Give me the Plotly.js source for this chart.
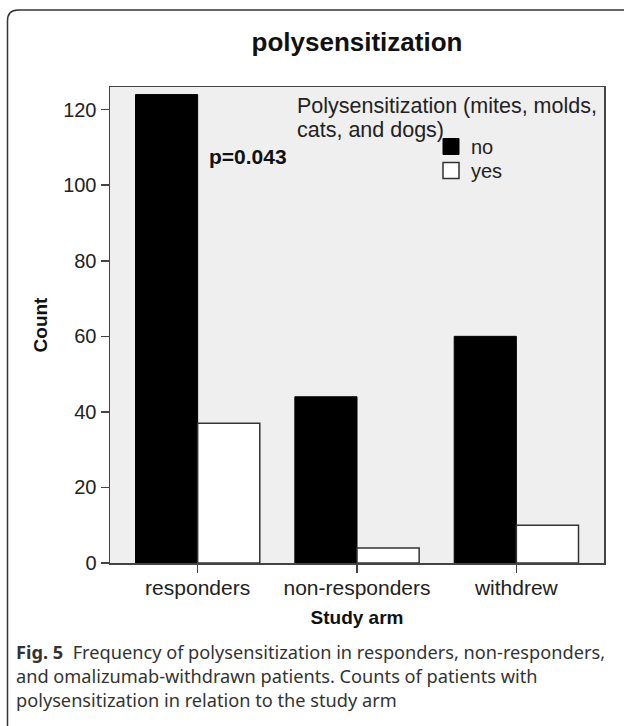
<!DOCTYPE html>
<html>
<head>
<meta charset="utf-8">
<script src="https://cdn.plot.ly/plotly-3.0.1.min.js"></script>
<style>
html,body{margin:0;padding:0;background:#fff;}
#chart{width:624px;height:726px;}
</style>
</head>
<body>
<div id="chart"></div>
<script>
// ---- data ----
const categories = ["responders", "non-responders", "withdrew"];
const seriesNames = ["no", "yes"];
const noValues = [124, 44, 60];
const yesValues = [37, 4, 10];
const yTickVals = [0, 20, 40, 60, 80, 100, 120];
const chartTitle = "polysensitization";
const legendTitle = ["Polysensitization (mites, molds,", "cats, and dogs)"];
const pValueText = "p=0.043";
const xTitle = "Study arm";
const yTitle = "Count";
const captionLines = [
  "<b>Fig. 5</b>  Frequency of polysensitization in responders, non-responders,",
  "and omalizumab-withdrawn patients. Counts of patients with",
  "polysensitization in relation to the study arm"
];

// ---- geometry helpers (pixel -> paper) ----
const W = 624, H = 726;
const M = {l: 110, r: 20, t: 87, b: 163};
const PW = W - M.l - M.r, PH = H - M.t - M.b;
const px = x => (x - M.l) / PW;
const py = y => (H - M.b - y) / PH;

const FONT = "Liberation Sans, Arial, sans-serif";
const fills = ["#000000", "#ffffff"];
const outlines = ["#000000", "#333333"];

const traces = [
  {
    type: "bar", name: seriesNames[0], x: categories, y: noValues,
    marker: {color: fills[0], line: {color: outlines[0], width: 1}},
    showlegend: false, hoverinfo: "x+y+name"
  },
  {
    type: "bar", name: seriesNames[1], x: categories, y: yesValues,
    marker: {color: fills[1], line: {color: outlines[1], width: 1.5}},
    showlegend: false, hoverinfo: "x+y+name"
  },
  // legend swatches (no visible data marks)
  {
    type: "scatter", mode: "markers", name: seriesNames[0], x: [null], y: [null],
    marker: {symbol: "square", size: 16, color: fills[0], line: {color: outlines[0], width: 1}},
    legend: "legend", hoverinfo: "skip"
  },
  {
    type: "scatter", mode: "markers", name: seriesNames[1], x: [null], y: [null],
    marker: {symbol: "square", size: 16, color: fills[1], line: {color: outlines[1], width: 1.5}},
    legend: "legend2", hoverinfo: "skip"
  }
];

const annotations = [
  {text: legendTitle[0], xref: "paper", yref: "paper", x: px(295), y: py(106),
   xanchor: "left", yanchor: "middle", showarrow: false, font: {family: FONT, size: 21.5, color: "#222"}},
  {text: legendTitle[1], xref: "paper", yref: "paper", x: px(295), y: py(130),
   xanchor: "left", yanchor: "middle", showarrow: false, font: {family: FONT, size: 21.5, color: "#222"}},
  {text: "<b>" + pValueText + "</b>", xref: "paper", yref: "paper", x: px(207), y: py(156),
   xanchor: "left", yanchor: "middle", showarrow: false, font: {family: FONT, size: 21, color: "#111"}}
];
const capY = [652, 676, 700];
captionLines.forEach((t, i) => {
  annotations.push({text: t, xref: "paper", yref: "paper", x: px(14), y: py(capY[i]),
    xanchor: "left", yanchor: "middle", showarrow: false,
    font: {family: "Noto Sans, Open Sans, sans-serif", size: 18.2, color: "#333"}});
});

const legendCommon = {
  xanchor: "left", yanchor: "top",
  bgcolor: "rgba(0,0,0,0)", font: {family: FONT, size: 20, color: "#222"},
  itemwidth: 30, tracegroupgap: 0, itemsizing: "trace"
};

const layout = {
  width: W, height: H,
  margin: M,
  paper_bgcolor: "#ffffff",
  plot_bgcolor: "#efefef",
  barmode: "group",
  bargap: 0.22,
  bargroupgap: 0,
  title: {text: "<b>" + chartTitle + "</b>", x: px(357), xref: "paper", xanchor: "center",
          y: 1 - 42 / H, yref: "container", yanchor: "middle",
          font: {family: FONT, size: 26, color: "#111"}},
  xaxis: {
    type: "category", categoryarray: categories, categoryorder: "array",
    range: [-0.55, 2.55], showgrid: false, zeroline: false,
    showline: true, mirror: true, linecolor: "#444", linewidth: 1.5,
    ticks: "outside", ticklen: 8, tickcolor: "#444", tickwidth: 1.5,
    ticklabelstandoff: -3,
    tickfont: {family: FONT, size: 21, color: "#222"},
    title: {text: "<b>" + xTitle + "</b>", standoff: 13, font: {family: FONT, size: 19, color: "#111"}},
    automargin: false
  },
  yaxis: {
    range: [0, 126], tickvals: yTickVals, showgrid: false, zeroline: false,
    showline: true, mirror: true, linecolor: "#444", linewidth: 1.5,
    ticks: "outside", ticklen: 8, tickcolor: "#444", tickwidth: 1.5,
    tickfont: {family: FONT, size: 20, color: "#222"},
    title: {text: "<b>" + yTitle + "</b>", standoff: 10, font: {family: FONT, size: 19, color: "#111"}},
    automargin: false
  },
  showlegend: true,
  legend: Object.assign({}, legendCommon, {x: px(431), y: py(127)}),
  legend2: Object.assign({}, legendCommon, {x: px(431), y: py(151)}),
  annotations: annotations,
  shapes: [
    {type: "path", xref: "paper", yref: "paper",
     path: `M ${px(640)},${py(10)} L ${px(18)},${py(10)} Q ${px(7.5)},${py(10)} ${px(7.5)},${py(21)} L ${px(7.5)},${py(740)}`,
     line: {color: "#333", width: 1.5}}
  ]
};

Plotly.newPlot("chart", traces, layout, {displayModeBar: false, staticPlot: true});
</script>
</body>
</html>
